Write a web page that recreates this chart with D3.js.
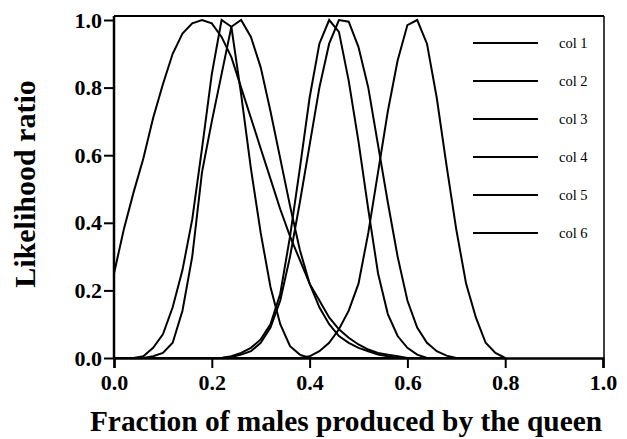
<!DOCTYPE html>
<html lang="en">
  <head>
    <script src="https://d3js.org/d3.v7.min.js"></script>
    <style>
      body { margin: 0; background: #ffffff; }
      text { font-family: "Liberation Serif", "Times New Roman", serif; fill: #000; }
    </style>
  </head>
  <body>
    <script>
// THE DATA - x positions shared by all the columns
      var xs = [0.00, 0.02, 0.04, 0.06, 0.08, 0.10, 0.12, 0.14, 0.16, 0.18,
                0.20, 0.22, 0.24, 0.26, 0.28, 0.30, 0.32, 0.34, 0.36, 0.38,
                0.40, 0.42, 0.44, 0.46, 0.48, 0.50, 0.52, 0.54, 0.56, 0.58,
                0.60, 0.62, 0.64, 0.66, 0.68, 0.70, 0.72, 0.74, 0.76, 0.78, 0.80];

      var col1 = [0.25, 0.38, 0.49, 0.59, 0.71, 0.81, 0.90, 0.96, 0.99, 1.00,
                  0.99, 0.95, 0.89, 0.80, 0.71, 0.62, 0.53, 0.44, 0.36, 0.29,
                  0.22, 0.17, 0.12, 0.085, 0.06, 0.04, 0.025, 0.015, 0.01, 0.005,
                  0, 0, 0, 0, 0, 0, 0, 0, 0, 0, 0];
      var col2 = [0, 0, 0, 0.005, 0.03, 0.07, 0.15, 0.26, 0.41, 0.62,
                  0.84, 1.00, 0.98, 0.78, 0.56, 0.37, 0.21, 0.10, 0.035, 0.01,
                  0, 0, 0, 0, 0, 0, 0, 0, 0, 0,
                  0, 0, 0, 0, 0, 0, 0, 0, 0, 0, 0];
      var col3 = [0, 0, 0, 0, 0.005, 0.015, 0.045, 0.14, 0.30, 0.55,
                  0.70, 0.84, 0.98, 1.00, 0.95, 0.86, 0.73, 0.59, 0.45, 0.32,
                  0.22, 0.15, 0.10, 0.065, 0.045, 0.03, 0.02, 0.01, 0.005, 0,
                  0, 0, 0, 0, 0, 0, 0, 0, 0, 0, 0];
      var col4 = [0, 0, 0, 0, 0, 0, 0, 0, 0, 0,
                  0, 0, 0.005, 0.015, 0.03, 0.055, 0.10, 0.19, 0.36, 0.56,
                  0.77, 0.93, 1.00, 0.965, 0.82, 0.64, 0.44, 0.25, 0.13, 0.065,
                  0.03, 0.01, 0, 0, 0, 0, 0, 0, 0, 0, 0];
      var col5 = [0, 0, 0, 0, 0, 0, 0, 0, 0, 0,
                  0, 0, 0.003, 0.01, 0.02, 0.045, 0.09, 0.17, 0.30, 0.46,
                  0.63, 0.80, 0.93, 1.00, 0.995, 0.92, 0.80, 0.63, 0.46, 0.30,
                  0.17, 0.09, 0.045, 0.02, 0.007, 0, 0, 0, 0, 0, 0];
      var col6 = [0, 0, 0, 0, 0, 0, 0, 0, 0, 0,
                  0, 0, 0, 0, 0, 0, 0, 0, 0, 0,
                  0.005, 0.02, 0.045, 0.085, 0.14, 0.22, 0.37, 0.55, 0.73, 0.88,
                  0.985, 1.00, 0.93, 0.77, 0.57, 0.38, 0.22, 0.12, 0.045, 0.015, 0];

      var seriesNames = ["col 1", "col 2", "col 3", "col 4", "col 5", "col 6"];
      var seriesValues = [col1, col2, col3, col4, col5, col6];
      var tickValues = [0.0, 0.2, 0.4, 0.6, 0.8, 1.0];

      var xTitle = "Fraction of males produced by the queen";
      var yTitle = "Likelihood ratio";

// THE SVG AND THE SCALES
      var width = 627, height = 439;
      var plotLeft = 114, plotRight = 603, plotTop = 20, plotBottom = 358;

      var svg = d3.select("body")
                  .append("svg")
                  .attr("width", width)
                  .attr("height", height);

      var x = d3.scaleLinear().domain([0, 1]).range([plotLeft, plotRight]);
      var y = d3.scaleLinear().domain([0, 1]).range([plotBottom, plotTop]);

// THE FRAME (top and right are thinner than the axes)
      svg.append("line")
         .attr("x1", plotLeft).attr("x2", x(1) + 1)
         .attr("y1", y(1.012)).attr("y2", y(1.012))
         .attr("stroke", "#000").attr("stroke-width", 2);
      svg.append("line")
         .attr("x1", x(1) + 1).attr("x2", x(1) + 1)
         .attr("y1", y(1.012)).attr("y2", plotBottom)
         .attr("stroke", "#000").attr("stroke-width", 1.5);

// THE CURVES
      var line = d3.line()
                   .x(function (d, i) { return x(xs[i]); })
                   .y(function (d) { return y(d); });

      svg.selectAll(".curve")
         .data(seriesValues)
         .enter()
         .append("path")
         .attr("class", "curve")
         .attr("d", line)
         .attr("fill", "none")
         .attr("stroke", "#000")
         .attr("stroke-width", 2)
         .attr("stroke-linejoin", "miter");

// THE AXES
      var xAxis = svg.append("g")
                     .attr("transform", "translate(0," + plotBottom + ")")
                     .call(d3.axisBottom(x).tickValues(tickValues).tickSize(10)
                             .tickPadding(6).tickFormat(d3.format(".1f")));
      var yAxis = svg.append("g")
                     .attr("transform", "translate(" + plotLeft + ",0)")
                     .call(d3.axisLeft(y).tickValues(tickValues).tickSize(10)
                             .tickPadding(2).tickFormat(d3.format(".1f")));

      [xAxis, yAxis].forEach(function (g) {
        g.attr("font-size", 22).attr("font-family", null);
        g.select(".domain").attr("stroke", "#000").attr("stroke-width", 2.5);
        g.selectAll(".tick line").attr("stroke", "#000").attr("stroke-width", 2);
        g.selectAll(".tick text")
         .style("font-size", "22px")
         .style("font-weight", "bold")
         .attr("fill", "#000");
      });
      yAxis.select(".domain").attr("d", "M0," + y(1.012) + "V" + plotBottom);

// AXIS TITLES
      svg.append("text")
         .attr("x", 346)
         .attr("y", 431)
         .attr("text-anchor", "middle")
         .style("font-size", "29.4px")
         .style("font-weight", "bold")
         .text(xTitle);

      svg.append("text")
         .attr("transform", "translate(35,184) rotate(-90)")
         .attr("text-anchor", "middle")
         .style("font-size", "30px")
         .style("font-weight", "bold")
         .text(yTitle);

// THE LEGEND
      var legend = svg.selectAll(".legend")
                      .data(seriesNames)
                      .enter()
                      .append("g")
                      .attr("class", "legend")
                      .attr("transform", function (d, i) { return "translate(0," + (43 + i * 38) + ")"; });

      legend.append("line")
            .attr("x1", 473).attr("x2", 538)
            .attr("y1", 0).attr("y2", 0)
            .attr("stroke", "#000")
            .attr("stroke-width", 2);

      legend.append("text")
            .attr("x", 559)
            .attr("y", 5)
            .style("font-size", "14.5px")
            .text(function (d) { return d; });
    </script>
  </body>
</html>
